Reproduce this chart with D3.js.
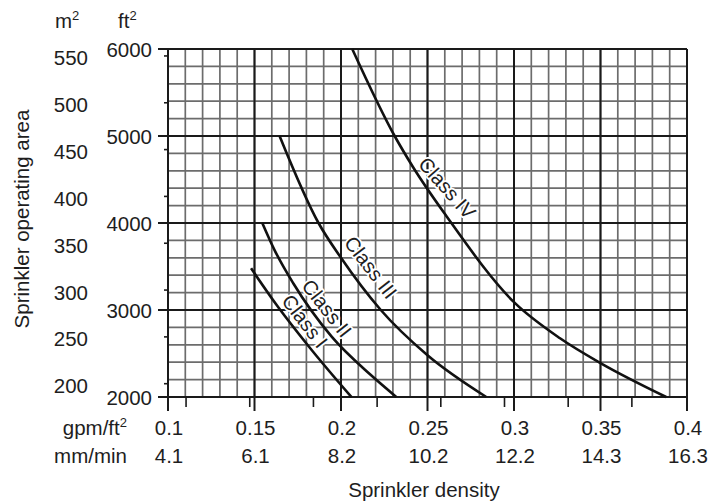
<!DOCTYPE html>
<html>
<head>
<meta charset="utf-8">
<script src="https://cdn.jsdelivr.net/npm/d3@7"></script>
<style>
  body { margin: 0; background: #fff; }
  text { font-family: "Liberation Sans", Arial, Helvetica, sans-serif; fill: #1e1e1e; }
</style>
</head>
<body>
<svg id="chart" width="710" height="503"></svg>
<script>
// Density axis (gpm/ft²) with its metric equivalents (mm/min)
const densityTicks = [0.1, 0.15, 0.2, 0.25, 0.3, 0.35, 0.4];
const densityLabels = ["0.1", "0.15", "0.2", "0.25", "0.3", "0.35", "0.4"];
const metricDensityLabels = ["4.1", "6.1", "8.2", "10.2", "12.2", "14.3", "16.3"];
const metricDensityTicks = [4.5, 6, 7.5, 9, 10.5, 12, 13.5, 15];

// Operating area axis (ft²) with metric equivalents (m²)
const areaTicks = [2000, 3000, 4000, 5000, 6000];
const areaLabels = ["2000", "3000", "4000", "5000", "6000"];
const metricAreaTicks = [200, 250, 300, 350, 400, 450, 500, 550];

// Density–area curves per commodity class: [density gpm/ft², area ft²]
const classNames = ["Class I", "Class II", "Class III", "Class IV"];
const classI   = [[0.148, 3480], [0.1628, 3057], [0.1821, 2563], [0.206, 2000]];
const classII  = [[0.1545, 4000], [0.1613, 3700], [0.1724, 3307], [0.1946, 2693], [0.2171, 2255], [0.232, 2000]];
const classIII = [[0.1645, 5000], [0.187, 4000], [0.2, 3600], [0.223, 3000], [0.25, 2480], [0.284, 2000]];
const classIV  = [[0.2065, 6000], [0.231, 5000], [0.2416, 4644], [0.2613, 4069], [0.30, 3090], [0.3266, 2675], [0.35, 2390], [0.388, 2000]];

// where each class name sits: [density, area, text angle in degrees]
const labelPlaces = [[0.1763, 2828, 52.5], [0.1912, 3009, 52], [0.2172, 3489, 52.5], [0.2601, 4379, 48.5]];

const GPM_TO_MM = 40.746;   // 1 gpm/ft² = 40.746 mm/min
const M2_TO_FT2 = 10.7639;  // 1 m² = 10.7639 ft²

const svg = d3.select("#chart");
const plotLeft = 168, plotRight = 687, plotTop = 49, plotBottom = 397;

const x = d3.scaleLinear().domain([0.1, 0.4]).range([plotLeft, plotRight]);
const y = d3.scaleLinear().domain([2000, 6000]).range([plotBottom, plotTop]);

// ---- grid ----
const grid = svg.append("g");
grid.selectAll("line.vminor").data(x.ticks(30)).join("line")
  .attr("x1", d => x(d)).attr("x2", d => x(d))
  .attr("y1", plotTop).attr("y2", plotBottom)
  .attr("stroke", "#6c6c6c").attr("stroke-width", 1.7);
grid.selectAll("line.hminor").data(y.ticks(20)).join("line")
  .attr("x1", plotLeft).attr("x2", plotRight)
  .attr("y1", d => y(d)).attr("y2", d => y(d))
  .attr("stroke", "#6c6c6c").attr("stroke-width", 1.7);
grid.selectAll("line.vmajor").data(densityTicks).join("line")
  .attr("x1", d => x(d)).attr("x2", d => x(d))
  .attr("y1", plotTop).attr("y2", plotBottom)
  .attr("stroke", "#1a1a1a").attr("stroke-width", 2);
grid.selectAll("line.hmajor").data(areaTicks).join("line")
  .attr("x1", plotLeft).attr("x2", plotRight)
  .attr("y1", d => y(d)).attr("y2", d => y(d))
  .attr("stroke", "#1a1a1a").attr("stroke-width", 2);

// ---- left axis: ft² and m² ----
const yAxis = svg.append("g");
yAxis.selectAll("line.ft").data(areaTicks).join("line")
  .attr("x1", plotLeft - 10).attr("x2", plotLeft)
  .attr("y1", d => y(d)).attr("y2", d => y(d))
  .attr("stroke", "#1a1a1a").attr("stroke-width", 2);
yAxis.selectAll("text.ft").data(areaTicks).join("text")
  .attr("x", 152).attr("y", d => y(d))
  .attr("text-anchor", "end").attr("dominant-baseline", "central")
  .attr("font-size", 20.5)
  .text((d, i) => areaLabels[i]);
yAxis.selectAll("line.m2").data(metricAreaTicks).join("line")
  .attr("x1", plotLeft - 4).attr("x2", plotLeft)
  .attr("y1", d => y(d * M2_TO_FT2)).attr("y2", d => y(d * M2_TO_FT2))
  .attr("stroke", "#1a1a1a").attr("stroke-width", 1.6);
yAxis.selectAll("text.m2").data(metricAreaTicks).join("text")
  .attr("x", 88).attr("y", d => y(d * M2_TO_FT2) + 2)
  .attr("text-anchor", "end").attr("dominant-baseline", "central")
  .attr("font-size", 20.5)
  .text(d => d);

// unit headers
const m2 = svg.append("text").attr("x", 55).attr("y", 28).attr("font-size", 20.5);
m2.append("tspan").text("m");
m2.append("tspan").attr("dy", -8).attr("font-size", 13).text("2");
const ft2 = svg.append("text").attr("x", 118).attr("y", 28).attr("font-size", 20.5);
ft2.append("tspan").text("ft");
ft2.append("tspan").attr("dy", -8).attr("font-size", 13).text("2");

// ---- bottom axis: gpm/ft² and mm/min ----
const xAxis = svg.append("g");
xAxis.selectAll("line.gpm").data(densityTicks).join("line")
  .attr("x1", d => x(d)).attr("x2", d => x(d))
  .attr("y1", plotBottom).attr("y2", plotBottom + 14)
  .attr("stroke", "#1a1a1a").attr("stroke-width", 2);
xAxis.selectAll("line.mm").data(metricDensityTicks).join("line")
  .attr("x1", d => x(d / GPM_TO_MM)).attr("x2", d => x(d / GPM_TO_MM))
  .attr("y1", plotBottom).attr("y2", plotBottom + 10)
  .attr("stroke", "#1a1a1a").attr("stroke-width", 1.6);
xAxis.selectAll("text.gpm").data(densityTicks).join("text")
  .attr("x", d => x(d) + 1).attr("y", 435)
  .attr("text-anchor", "middle").attr("font-size", 20.5)
  .text((d, i) => densityLabels[i]);
xAxis.selectAll("text.mm").data(densityTicks).join("text")
  .attr("x", d => x(d) + 1).attr("y", 463)
  .attr("text-anchor", "middle").attr("font-size", 20.5)
  .text((d, i) => metricDensityLabels[i]);

const gpmLab = svg.append("text").attr("x", 127).attr("y", 435)
  .attr("text-anchor", "end").attr("font-size", 20.5);
gpmLab.append("tspan").text("gpm/ft");
gpmLab.append("tspan").attr("dy", -8).attr("font-size", 13).text("2");
svg.append("text").attr("x", 127).attr("y", 463)
  .attr("text-anchor", "end").attr("font-size", 20.5).text("mm/min");

// axis titles
svg.append("text").attr("x", 424).attr("y", 497)
  .attr("text-anchor", "middle").attr("font-size", 20.5).text("Sprinkler density");
svg.append("text").attr("transform", "translate(29,219) rotate(-90)")
  .attr("text-anchor", "middle").attr("font-size", 20.5).text("Sprinkler operating area");

// ---- curves ----
const line = d3.line()
  .x(d => x(d[0])).y(d => y(d[1]))
  .curve(d3.curveMonotoneX);
const series = [classI, classII, classIII, classIV];
const paths = svg.append("g").selectAll("path").data(series).join("path")
  .attr("d", line)
  .attr("fill", "none").attr("stroke", "#111").attr("stroke-width", 2.6);

// ---- class names along the curves; nudged clear of their own line ----
const labelLayer = svg.append("g");
const baselineClear = 12;   // centre-to-line clearance below the text
paths.each(function (d, i) {
  const [ld, la, deg] = labelPlaces[i];
  const t = deg * Math.PI / 180;
  const dir = [Math.cos(t), Math.sin(t)];      // reading direction
  const up = [Math.sin(t), -Math.cos(t)];      // away from the line
  let cx = x(ld), cy = y(la);

  const label = labelLayer.append("text")
    .attr("text-anchor", "middle").attr("dominant-baseline", "central")
    .attr("font-size", 20)
    .attr("stroke", "#fff").attr("stroke-width", 3.5).attr("paint-order", "stroke")
    .attr("stroke-linejoin", "round")
    .text(classNames[i]);
  const half = label.node().getComputedTextLength() / 2;

  // smallest distance below the text to its curve, over the text's span
  const len = this.getTotalLength();
  let minBelow = Infinity;
  for (let s = 0; s <= len; s += 1) {
    const q = this.getPointAtLength(s);
    const rx = q.x - cx, ry = q.y - cy;
    const along = rx * dir[0] + ry * dir[1];
    if (Math.abs(along) > half) continue;
    const below = -(rx * up[0] + ry * up[1]);
    if (below > 0 && below < minBelow) minBelow = below;
  }
  if (minBelow < baselineClear) {
    const push = baselineClear - minBelow;
    cx += up[0] * push;
    cy += up[1] * push;
  }
  label.attr("transform", `translate(${cx},${cy}) rotate(${deg})`);
});
</script>
</body>
</html>
